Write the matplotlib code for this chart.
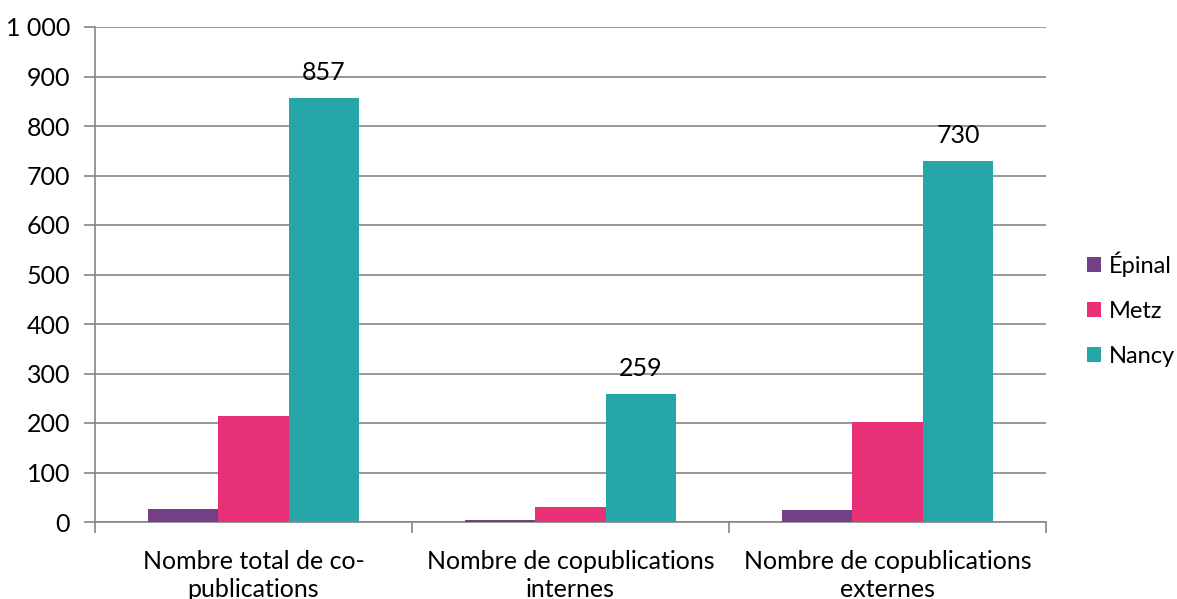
import matplotlib.pyplot as plt
import numpy as np

# data
categories = ["Nombre total de co-\npublications",
              "Nombre de copublications\ninternes",
              "Nombre de copublications\nexternes"]
series = ["Épinal", "Metz", "Nancy"]
epinal = [27, 5, 24]
metz = [215, 30, 203]
nancy = [857, 259, 730]
colors = ["#753F87", "#E83077", "#26A6A9"]

plt.rcParams['font.family'] = ['Lato', 'DejaVu Sans']
fs = 18

fig = plt.figure(figsize=(11.77, 5.99), dpi=100)
ax = fig.add_axes([95 / 1177, 1 - 522 / 599, (1046 - 95) / 1177, (522 - 27) / 599])

x = np.arange(len(categories))
w = 1 / 4.5
values = [epinal, metz, nancy]
for i, (name, vals, c) in enumerate(zip(series, values, colors)):
    bars = ax.bar(x + (i - 1) * w, vals, w, color=c, label=name, zorder=3)
    if name == "Nancy":
        for b, v in zip(bars, vals):
            ax.annotate(str(v), (b.get_x() + b.get_width() / 2, v),
                        xytext=(0, 10), textcoords="offset points",
                        ha="center", va="bottom", fontsize=fs)

ax.set_xlim(-0.5, len(categories) - 0.5)
ax.set_ylim(0, 1000)
ax.set_yticks(range(0, 1001, 100))
ax.set_yticklabels(["0", "100", "200", "300", "400", "500", "600", "700", "800", "900", "1 000"])
ax.yaxis.grid(True, color="#868686", linewidth=1.2, zorder=0)

# category ticks at the boundaries, labels at the centres
ax.set_xticks(np.arange(-0.5, len(categories), 1))
ax.set_xticklabels([])
ax.set_xticks(x, minor=True)
ax.set_xticklabels(categories, minor=True, fontsize=fs, linespacing=1.25)
ax.tick_params(axis="x", which="minor", length=0, pad=20)
ax.tick_params(axis="x", which="major", length=8, color="#868686", width=1.2)
ax.tick_params(axis="y", length=8, color="#868686", width=1.2, labelsize=fs, pad=10)

for s in ["top", "right"]:
    ax.spines[s].set_visible(False)
for s in ["left", "bottom"]:
    ax.spines[s].set_color("#868686")
    ax.spines[s].set_linewidth(1.2)

leg = ax.legend(loc="center left", bbox_to_anchor=(1.043, 0.43), frameon=False,
                fontsize=17, handlelength=0.6, handleheight=0.6,
                handletextpad=0.35, labelspacing=1.03,
                borderpad=0, borderaxespad=0)

fig.savefig("out.png", dpi=100)
